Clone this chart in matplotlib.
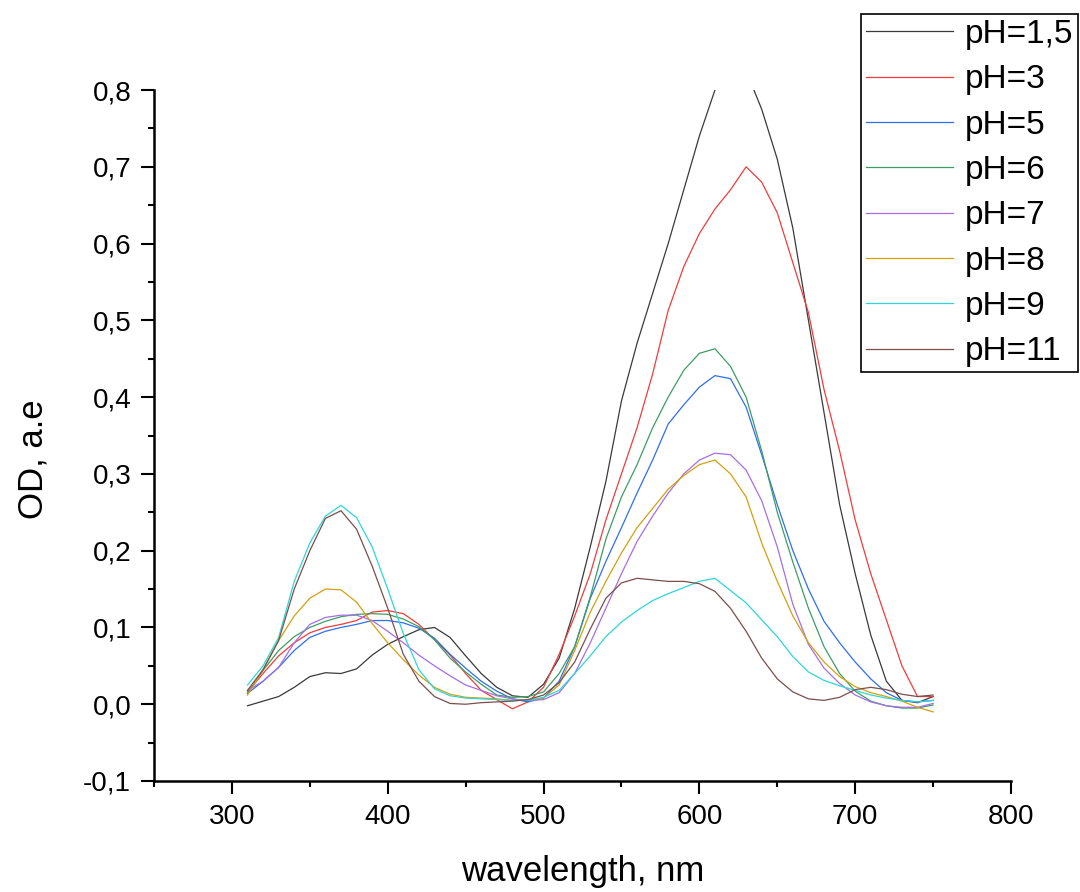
import numpy as np
import matplotlib
matplotlib.use("Agg")
import matplotlib.pyplot as plt
from matplotlib import ticker

plt.rcParams['font.family'] = ['Liberation Sans', 'DejaVu Sans']

# wavelength grid, nm
wavelength = np.arange(310, 751, 10)

# optical density for each pH
od_ph1_5 = [-0.002, 0.004, 0.010, 0.022, 0.036, 0.041, 0.040, 0.046, 0.064, 0.078,
            0.088, 0.097, 0.100, 0.087, 0.063, 0.040, 0.022, 0.011, 0.009, 0.026,
            0.060, 0.125, 0.205, 0.290, 0.395, 0.470, 0.535, 0.600, 0.670, 0.740,
            0.800, 0.835, 0.825, 0.775, 0.710, 0.620, 0.500, 0.380, 0.260, 0.170,
            0.090, 0.030, 0.005, 0.002, 0.010]
od_ph3 = [0.016, 0.040, 0.063, 0.080, 0.093, 0.100, 0.104, 0.109, 0.120, 0.122,
          0.118, 0.104, 0.084, 0.064, 0.040, 0.018, 0.006, -0.006, 0.003, 0.022,
          0.065, 0.115, 0.170, 0.240, 0.300, 0.360, 0.430, 0.513, 0.570, 0.613,
          0.645, 0.670, 0.700, 0.680, 0.640, 0.575, 0.510, 0.410, 0.330, 0.240,
          0.170, 0.110, 0.050, 0.010, 0.010]
od_ph5 = [0.014, 0.030, 0.048, 0.070, 0.087, 0.095, 0.100, 0.104, 0.109, 0.109,
          0.106, 0.099, 0.086, 0.065, 0.047, 0.030, 0.017, 0.007, 0.003, 0.008,
          0.030, 0.075, 0.138, 0.186, 0.230, 0.275, 0.318, 0.365, 0.390, 0.413,
          0.428, 0.424, 0.387, 0.325, 0.260, 0.200, 0.150, 0.108, 0.080, 0.055,
          0.033, 0.015, 0.005, 0.003, 0.005]
od_ph6 = [0.014, 0.044, 0.070, 0.088, 0.100, 0.108, 0.114, 0.117, 0.118, 0.117,
          0.111, 0.101, 0.084, 0.060, 0.042, 0.026, 0.012, 0.009, 0.010, 0.016,
          0.040, 0.075, 0.140, 0.215, 0.270, 0.312, 0.360, 0.400, 0.435, 0.457,
          0.463, 0.440, 0.400, 0.330, 0.250, 0.185, 0.125, 0.075, 0.040, 0.017,
          0.004, -0.002, -0.005, -0.005, -0.001]
od_ph7 = [0.018, 0.030, 0.048, 0.080, 0.104, 0.113, 0.116, 0.116, 0.109, 0.095,
          0.080, 0.064, 0.050, 0.037, 0.025, 0.018, 0.011, 0.007, 0.005, 0.006,
          0.015, 0.040, 0.080, 0.125, 0.170, 0.212, 0.245, 0.275, 0.300, 0.318,
          0.327, 0.325, 0.305, 0.265, 0.205, 0.130, 0.078, 0.047, 0.027, 0.012,
          0.003, -0.002, -0.004, -0.004, 0.001]
od_ph8 = [0.012, 0.045, 0.083, 0.115, 0.138, 0.150, 0.149, 0.133, 0.105, 0.080,
          0.058, 0.038, 0.022, 0.013, 0.009, 0.008, 0.007, 0.005, 0.005, 0.008,
          0.025, 0.070, 0.120, 0.160, 0.197, 0.230, 0.255, 0.280, 0.298, 0.312,
          0.318, 0.300, 0.270, 0.210, 0.160, 0.115, 0.080, 0.055, 0.036, 0.023,
          0.015, 0.010, 0.004, -0.004, -0.010]
od_ph9 = [0.025, 0.050, 0.087, 0.160, 0.210, 0.245, 0.259, 0.243, 0.205, 0.150,
          0.092, 0.045, 0.020, 0.011, 0.008, 0.007, 0.006, 0.005, 0.005, 0.009,
          0.018, 0.040, 0.063, 0.088, 0.107, 0.122, 0.135, 0.144, 0.152, 0.160,
          0.164, 0.148, 0.132, 0.110, 0.088, 0.062, 0.042, 0.031, 0.024, 0.018,
          0.012, 0.008, 0.005, 0.003, 0.005]
od_ph11 = [0.018, 0.045, 0.083, 0.150, 0.200, 0.242, 0.252, 0.228, 0.180, 0.125,
           0.065, 0.030, 0.010, 0.001, 0.000, 0.002, 0.003, 0.004, 0.006, 0.012,
           0.028, 0.055, 0.098, 0.138, 0.158, 0.164, 0.162, 0.160, 0.160, 0.157,
           0.147, 0.125, 0.095, 0.060, 0.033, 0.016, 0.007, 0.005, 0.009, 0.019,
           0.022, 0.019, 0.013, 0.010, 0.012]

labels = ['pH=1,5', 'pH=3', 'pH=5', 'pH=6', 'pH=7', 'pH=8', 'pH=9', 'pH=11']
series = [od_ph1_5, od_ph3, od_ph5, od_ph6, od_ph7, od_ph8, od_ph9, od_ph11]
colors = ['#3a3a3a', '#f03c3c', '#2f6ef0', '#3c9e64', '#a66ee6',
          '#d4a010', '#2ed6d6', '#7a4e4e']

fig = plt.figure(figsize=(10.8, 8.92), dpi=100)
ax = fig.add_axes([154 / 1080, 1 - 781 / 892, 857 / 1080, 691 / 892])

for y, lab, c in zip(series, labels, colors):
    ax.plot(wavelength, y, color=c, linewidth=0.9, label=lab)

ax.set_xlim(250, 800)
ax.set_ylim(-0.1, 0.8)
ax.spines['top'].set_visible(False)
ax.spines['right'].set_visible(False)
ax.spines['left'].set_linewidth(1.8)
ax.spines['bottom'].set_linewidth(1.8)

ax.xaxis.set_major_locator(ticker.MultipleLocator(100))
ax.xaxis.set_minor_locator(ticker.MultipleLocator(50))
ax.yaxis.set_major_locator(ticker.MultipleLocator(0.1))
ax.yaxis.set_minor_locator(ticker.MultipleLocator(0.05))
ax.yaxis.set_major_formatter(
    ticker.FuncFormatter(lambda v, p: f"{v:.1f}".replace('.', ',').replace('-0,0', '0,0')))
ax.tick_params(which='major', direction='out', length=9.4, width=1.5, labelsize=20)
ax.tick_params(axis='y', which='major', pad=7)
ax.tick_params(axis='x', which='major', pad=7.5)
ax.tick_params(which='minor', direction='out', length=4.5, width=1.5)

ax.set_xlabel('wavelength, nm', fontsize=25)
ax.set_ylabel('OD, a.e', fontsize=25)
ax.xaxis.set_label_coords(0.5, -0.107)
ax.yaxis.set_label_coords(-0.122, 0.465)

leg = fig.legend(loc='upper right', bbox_to_anchor=(1078 / 1080, 1 - 14 / 892),
                 fontsize=24, frameon=True, fancybox=False, framealpha=1,
                 edgecolor='black', borderaxespad=0, labelspacing=0.43,
                 handlelength=2.6, handletextpad=0.35, borderpad=0.15)
leg.get_frame().set_linewidth(1.2)

fig.savefig('out.png', dpi=100)
